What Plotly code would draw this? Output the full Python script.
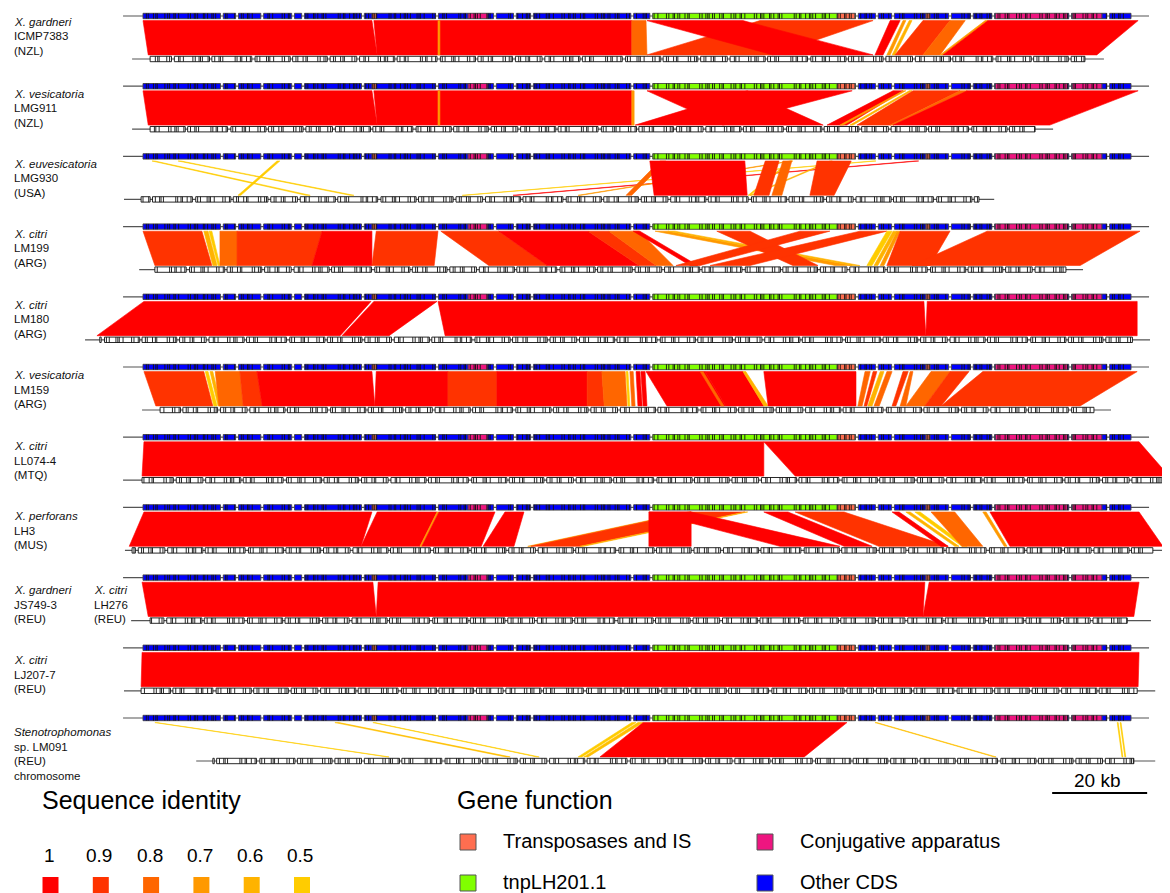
import plotly.graph_objects as go

W, H = 1170, 893          # browser window
PAGE_MARGIN = 8           # default body margin of the html page
FW, FH = W - PAGE_MARGIN, H - PAGE_MARGIN
PX_PER_KB = 4.75          # horizontal scale of the drawing
REF_X0_PX = 143           # window pixel where the reference plasmid starts
FONT = "Liberation Sans, Arial, sans-serif"

# ---------------- data ----------------
identity_levels = [1.0, 0.9, 0.8, 0.7, 0.6, 0.5]
identity_colors = ["#ff0000", "#ff3300", "#ff6600", "#ff9900", "#ffb300", "#ffcc00"]

func_labels = {"IS": "Transposases and IS", "tnp": "tnpLH201.1",
               "conj": "Conjugative apparatus", "other": "Other CDS"}
func_colors = {"IS": "#ff6e50", "tnp": "#80ff00", "conj": "#ee1580", "other": "#0000ff"}

# reference plasmid (kb): functional segments and intergenic gaps
ref_length_kb = 208.0
ref_line_kb = (-4.2, 211.8)
ref_func_segments = [
    (0.0, 48.2, "other"), (48.2, 49.1, "IS"), (49.1, 68.4, "other"),
    (68.4, 72.6, "conj"), (72.6, 107.2, "other"), (107.2, 146.1, "tnp"),
    (146.1, 149.9, "IS"), (149.9, 150.3, "tnp"), (150.3, 164.8, "other"),
    (164.8, 165.7, "IS"), (165.7, 179.4, "other"), (179.4, 194.7, "conj"),
    (194.7, 195.6, "other"), (195.6, 201.9, "conj"), (201.9, 208.0, "other"),
]
ref_gaps_kb = [16.6, 19.8, 25.1, 31.6, 33.7, 46.3, 61.9, 74.1, 78.3, 81.9,
               103.0, 107.0, 150.3, 154.5, 157.9, 169.9, 174.5, 179.0, 195.2, 203.2]

# typical CDS lengths (kb); negative = short intergenic stretch
gene_pattern_kb = [0.7, 0.4, 1.1, 0.5, 0.3, 1.6, 0.6, 0.4, -0.6, 0.9, 0.3, 0.7, 2.0, 0.5,
                   0.8, 0.3, 0.4, 1.2, 0.3, -0.5, 0.6, 0.9, 0.3, 0.5, 2.6, 0.4, 0.7, 0.3,
                   1.0, 0.8, 0.3, -0.7, 0.4, 0.6, 1.4, 0.4, 0.3, 0.8, 1.8, 0.5, 0.9, 0.3,
                   -0.5, 0.7, 0.4, 1.1, 0.6, 0.3, 2.2, 0.5, 0.8, 0.4, 0.3, -0.6]

panel_labels = [
    ["<i>X. gardneri</i>", "ICMP7383", "(NZL)"],
    ["<i>X. vesicatoria</i>", "LMG911", "(NZL)"],
    ["<i>X. euvesicatoria</i>", "LMG930", "(USA)"],
    ["<i>X. citri</i>", "LM199", "(ARG)"],
    ["<i>X. citri</i>", "LM180", "(ARG)"],
    ["<i>X. vesicatoria</i>", "LM159", "(ARG)"],
    ["<i>X. citri</i>", "LL074-4", "(MTQ)"],
    ["<i>X. perforans</i>", "LH3", "(MUS)"],
    ["<i>X. gardneri</i>", "JS749-3", "(REU)"],
    ["<i>X. citri</i>", "LJ207-7", "(REU)"],
    ["<i>Stenotrophomonas</i>", "sp. LM091", "(REU)", "chromosome"],
]
extra_label_panel = 8
extra_label = ["<i>X. citri</i>", "LH276", "(REU)"]

# query sequences: CDS extent and backbone extent (kb, drawing coordinates)
query_cds_kb = [(1.5, 198.3), (1.5, 187.8), (-0.4, 176.0), (2.5, 194.3), (-9.1, 208.4),
                (3.6, 200.2), (-0.2, 214.5), (-2.3, 212.6), (1.5, 207.2), (-0.4, 209.3),
                (14.7, 208.6)]
query_line_kb = [(-2.3, 202.3), (-2.3, 191.6), (-4.0, 179.2), (-0.8, 197.9), (-12.2, 212.0),
                 (-0.2, 203.8), (-4.2, 216.2), (-3.8, 215.6), (-2.5, 212.2), (-4.0, 213.1),
                 (11.2, 213.1)]

# BLAST hits: (ref start, ref end, query start, query end, identity)
blocks_icmp7383 = [
    (0.0, 48.2, 1.1, 49.3, 1.0), (48.6, 102.9, 49.3, 102.9, 1.0), (62.1, 62.5, 62.1, 62.5, 0.7),
    (102.9, 105.9, 102.9, 106.1, 0.8), (129.9, 153.7, 106.1, 132.6, 0.9),
    (106.1, 126.3, 132.6, 153.7, 1.0), (157.3, 159.4, 154.1, 155.8, 1.0),
    (160.0, 160.6, 156.6, 157.3, 0.7), (161.3, 161.9, 157.7, 158.3, 0.6),
    (164.2, 169.9, 158.3, 164.2, 0.9), (169.9, 173.1, 164.2, 167.8, 0.8),
    (177.3, 177.9, 167.8, 168.4, 0.7), (177.9, 209.5, 168.4, 200.8, 1.0),
]
blocks_lmg911 = [
    (0.0, 48.2, 1.1, 49.3, 1.0), (48.6, 102.9, 49.3, 102.9, 1.0), (62.1, 62.5, 62.1, 62.5, 0.7),
    (102.9, 103.4, 102.9, 103.4, 0.7), (127.2, 149.3, 103.6, 122.1, 1.0),
    (106.1, 127.2, 122.1, 143.2, 1.0), (157.9, 160.0, 144.0, 148.2, 1.0),
    (160.0, 160.6, 146.7, 147.4, 0.7), (161.3, 161.9, 148.8, 149.5, 0.6),
    (162.1, 172.0, 150.3, 157.3, 0.9), (172.0, 173.5, 157.3, 157.9, 0.8),
    (173.5, 209.5, 157.9, 190.9, 1.0),
]
blocks_lmg930 = [
    (1.9, 2.5, 34.3, 35.2, 0.5), (7.4, 8.0, 43.6, 44.4, 0.5), (28.2, 28.8, 20.0, 20.6, 0.5),
    (153.7, 154.3, 67.2, 67.8, 0.5), (162.5, 163.3, 77.9, 78.7, 1.0),
    (136.2, 136.8, 91.6, 92.2, 0.7), (108.8, 110.1, 101.7, 102.9, 0.8),
    (106.7, 126.7, 107.6, 127.2, 1.0), (136.2, 136.6, 127.4, 127.8, 0.5),
    (144.6, 145.1, 127.8, 128.2, 0.6), (131.0, 133.9, 128.6, 131.8, 0.9),
    (134.7, 136.6, 132.4, 134.5, 0.8), (141.9, 149.1, 140.4, 145.5, 0.9),
]
blocks_lm199 = [
    (0.0, 12.4, 2.5, 14.5, 0.9), (12.8, 13.7, 14.7, 15.6, 0.6), (13.9, 14.5, 15.8, 16.2, 0.5),
    (16.2, 19.8, 16.2, 19.8, 0.8), (19.8, 37.7, 19.8, 35.6, 0.9), (37.7, 48.2, 35.6, 48.2, 1.0),
    (49.1, 62.1, 48.2, 61.3, 0.9), (62.7, 74.9, 72.8, 85.1, 0.9), (74.9, 93.7, 85.1, 104.4, 1.0),
    (93.7, 98.1, 104.4, 108.0, 0.9), (98.1, 104.4, 108.0, 111.6, 0.8),
    (103.2, 104.6, 115.2, 116.8, 1.0), (107.8, 110.5, 145.7, 149.3, 0.7),
    (110.5, 112.0, 149.3, 150.9, 0.6), (120.8, 127.8, 136.8, 142.1, 0.9),
    (138.3, 144.6, 112.2, 117.3, 0.9), (150.9, 156.6, 119.4, 127.8, 0.9),
    (156.6, 157.7, 152.4, 153.5, 0.5), (157.9, 158.7, 153.9, 154.7, 0.6),
    (158.7, 159.4, 155.2, 156.0, 0.7), (159.4, 169.9, 156.6, 165.7, 0.9),
    (177.7, 209.9, 161.9, 197.3, 0.9),
]
blocks_lm180 = [
    (0.2, 48.0, -9.7, 41.5, 1.0), (48.6, 61.9, 41.9, 51.8, 1.0),
    (62.1, 164.4, 63.6, 164.8, 1.0), (165.1, 209.3, 164.8, 209.3, 1.0),
]
blocks_lm159 = [
    (0.2, 12.8, 2.7, 14.7, 0.9), (13.1, 13.7, 14.9, 15.6, 0.5), (14.1, 14.7, 15.8, 16.4, 0.6),
    (15.2, 20.4, 16.0, 21.1, 0.8), (20.4, 24.0, 21.1, 25.1, 0.9), (24.0, 48.2, 25.1, 48.8, 1.0),
    (49.1, 64.2, 48.8, 64.2, 1.0), (64.2, 74.5, 64.2, 74.5, 0.9), (74.5, 93.5, 74.5, 93.5, 1.0),
    (93.5, 96.6, 93.5, 97.1, 0.9), (96.6, 101.5, 97.1, 101.9, 0.8),
    (101.7, 102.1, 102.1, 102.5, 0.5), (102.5, 103.2, 102.9, 103.6, 0.8),
    (103.8, 104.6, 104.2, 105.1, 1.0), (104.8, 105.7, 105.3, 106.1, 1.0),
    (105.9, 118.3, 110.3, 122.7, 1.0), (117.3, 117.9, 121.7, 122.3, 0.8),
    (118.3, 126.3, 122.7, 130.7, 1.0), (126.3, 126.9, 130.7, 131.6, 0.6),
    (130.7, 150.1, 131.6, 150.1, 1.0), (152.0, 153.1, 150.5, 151.4, 0.8),
    (153.7, 154.5, 151.8, 152.4, 0.9), (155.2, 156.0, 152.6, 153.5, 0.6),
    (156.6, 157.7, 153.9, 155.0, 0.8), (160.0, 161.1, 157.7, 158.5, 0.9),
    (161.5, 162.1, 159.4, 160.6, 0.8), (165.9, 169.9, 160.6, 164.6, 0.8),
    (169.9, 173.9, 164.6, 168.0, 0.9), (176.8, 209.3, 168.0, 197.3, 0.9),
]
blocks_ll074 = [
    (0.2, 130.7, -0.2, 130.7, 1.0), (130.7, 209.7, 137.3, 216.0, 1.0),
]
blocks_lh3 = [
    (0.2, 48.2, -2.9, 45.9, 1.0), (49.3, 61.9, 45.9, 58.3, 1.0), (61.9, 62.3, 58.3, 58.7, 0.7),
    (62.3, 74.1, 58.7, 71.2, 1.0), (76.2, 80.2, 71.6, 78.1, 1.0),
    (114.8, 115.4, 81.0, 81.7, 0.7), (115.4, 126.7, 81.7, 92.0, 0.9),
    (126.7, 127.3, 92.0, 92.8, 0.6), (106.5, 115.4, 134.1, 146.7, 1.0),
    (106.5, 115.4, 106.5, 115.4, 1.0), (130.7, 135.8, 147.6, 153.5, 1.0),
    (137.3, 147.6, 154.9, 169.5, 0.9), (157.7, 159.2, 168.0, 169.5, 1.0),
    (160.6, 161.5, 170.9, 171.8, 0.6), (162.5, 163.6, 172.4, 173.5, 0.5),
    (165.9, 170.9, 172.4, 176.8, 0.8), (176.8, 177.5, 181.3, 181.9, 0.7),
    (178.3, 209.7, 182.5, 214.7, 1.0),
]
blocks_lh276 = [
    (-0.2, 48.4, 1.1, 49.1, 1.0), (49.5, 164.6, 49.1, 164.2, 1.0), (165.5, 209.7, 164.2, 208.6, 1.0),
]
blocks_lj207 = [
    (-0.2, 209.7, -0.4, 209.5, 1.0),
]
blocks_lm091 = [
    (2.5, 2.9, 51.4, 51.8, 0.5), (40.4, 41.3, 76.4, 77.3, 0.55), (48.4, 48.8, 82.9, 83.4, 0.5),
    (102.9, 103.8, 91.6, 92.4, 0.5), (104.2, 105.3, 92.8, 93.7, 0.55),
    (105.3, 148.2, 96.2, 139.2, 1.0), (154.1, 154.5, 179.2, 179.6, 0.55),
    (205.1, 205.3, 206.1, 206.3, 0.5), (205.7, 205.9, 206.7, 206.9, 0.5),
]
panel_blocks = [blocks_icmp7383, blocks_lmg911, blocks_lmg930, blocks_lm199, blocks_lm180,
                blocks_lm159, blocks_ll074, blocks_lh3, blocks_lh276, blocks_lj207, blocks_lm091]

scale_bar_kb = 20
scale_bar_end_kb = 211.4

# ---------------- layout constants (window pixels) ----------------
PANEL_TOP = 16.0
PANEL_STEP = 70.2
QUERY_DY = 43.0
HALF_H = 2.7
LABEL_Y = [21.5, 93.5, 163.5, 233.5, 304.5, 375, 446, 516, 590, 660, 732]
LABEL_STEP = 14.7


def px(xw):
    """window pixel x -> paper fraction of the figure"""
    return (xw - PAGE_MARGIN) / FW


def hex2rgb(h):
    return tuple(int(h[i:i + 2], 16) for i in (1, 3, 5))


def id_color(v):
    v = max(identity_levels[-1], min(identity_levels[0], v))
    for k in range(len(identity_levels) - 1):
        a, b = identity_levels[k], identity_levels[k + 1]
        if b <= v <= a:
            t = (a - v) / (a - b)
            ca, cb = hex2rgb(identity_colors[k]), hex2rgb(identity_colors[k + 1])
            return "rgb(%d,%d,%d)" % tuple(round(ca[j] + (cb[j] - ca[j]) * t) for j in range(3))
    return identity_colors[0]


def genes_in(start, end, offset, use_gaps):
    """Lay CDS boxes from the pattern between start and end -> list of contigs (lists of genes)."""
    contigs, cur = [], []
    x, i = start, offset
    while x < end - 0.05:
        L = gene_pattern_kb[i % len(gene_pattern_kb)]
        i += 1
        if L < 0:
            if use_gaps and cur:
                contigs.append(cur)
                cur = []
                x += -L
            continue
        e = min(x + L, end)
        cur.append((x, e))
        x = e
    if cur:
        contigs.append(cur)
    return contigs


fig = go.Figure()

# ---------------- alignment polygons ----------------
for p, blocks in enumerate(panel_blocks):
    ry = PANEL_TOP + PANEL_STEP * p
    qy = ry + QUERY_DY
    yt, yb = ry + HALF_H + 1.9, qy - HALF_H - 1.4
    for (r1, r2, q1, q2, ident) in blocks:
        c = id_color(ident)
        fig.add_trace(go.Scatter(x=[r1, r2, q2, q1, r1], y=[yt, yt, yb, yb, yt],
                                 mode="lines", fill="toself", fillcolor=c,
                                 line=dict(color=c, width=0.6), hoverinfo="skip",
                                 showlegend=False))

# ---------------- tracks ----------------
bb_x, bb_y = [], []
div_x, div_y = [], []
fills = {k: ([], []) for k in list(func_colors) + ["white"]}

ref_contigs = []
s = 0.0
for g in ref_gaps_kb:
    ref_contigs.append((s, g - 0.3))
    s = g + 0.3
ref_contigs.append((s, ref_length_kb))

for p in range(len(panel_blocks)):
    ry = PANEL_TOP + PANEL_STEP * p
    qy = ry + QUERY_DY
    bb_x += [ref_line_kb[0], ref_line_kb[1], None]
    bb_y += [ry, ry, None]
    for k, (cs, ce) in enumerate(ref_contigs):
        for (fs, fe, fn) in ref_func_segments:
            a, b = max(cs, fs), min(ce, fe)
            if b > a:
                fx, fy = fills[fn]
                fx += [a, b, b, a, a, None]
                fy += [ry - HALF_H, ry - HALF_H, ry + HALF_H, ry + HALF_H, ry - HALF_H, None]
        for contig in genes_in(cs, ce, k * 3, False):
            for (gs, ge) in contig[:-1]:
                div_x += [ge, ge, None]
                div_y += [ry - HALF_H, ry + HALF_H, None]
    ls, le = query_line_kb[p]
    bb_x += [ls, le, None]
    bb_y += [qy, qy, None]
    cs, ce = query_cds_kb[p]
    for contig in genes_in(cs, ce, p * 7 + 2, True):
        a, b = contig[0][0], contig[-1][1]
        fx, fy = fills["white"]
        fx += [a, b, b, a, a, None]
        fy += [qy - HALF_H, qy - HALF_H, qy + HALF_H, qy + HALF_H, qy - HALF_H, None]
        for (gs, ge) in contig[:-1]:
            div_x += [ge, ge, None]
            div_y += [qy - HALF_H, qy + HALF_H, None]

fig.add_trace(go.Scatter(x=bb_x, y=bb_y, mode="lines", line=dict(color="#555555", width=1.2),
                         hoverinfo="skip", showlegend=False))
for key, (fx, fy) in fills.items():
    if not fx:
        continue
    col = "#ffffff" if key == "white" else func_colors[key]
    edge = "#111111" if key == "white" else "#444444"
    fig.add_trace(go.Scatter(x=fx, y=fy, mode="lines", fill="toself", fillcolor=col,
                             line=dict(color=edge, width=0.9), hoverinfo="skip",
                             showlegend=False))
fig.add_trace(go.Scatter(x=div_x, y=div_y, mode="lines", line=dict(color="#111111", width=0.9),
                         hoverinfo="skip", showlegend=False))

# ---------------- labels ----------------
ann = []
for p, lines in enumerate(panel_labels):
    for j, t in enumerate(lines):
        ann.append(dict(x=px(12), xref="paper", y=LABEL_Y[p] + j * LABEL_STEP, yref="y",
                        text=t, showarrow=False, xanchor="left", yanchor="middle",
                        font=dict(family=FONT, size=11.5, color="#111111")))
for j, t in enumerate(extra_label):
    ann.append(dict(x=px(92), xref="paper", y=LABEL_Y[extra_label_panel] + j * LABEL_STEP, yref="y",
                    text=t, showarrow=False, xanchor="left", yanchor="middle",
                    font=dict(family=FONT, size=11.5, color="#111111")))

# scale bar
fig.add_trace(go.Scatter(x=[scale_bar_end_kb - scale_bar_kb, scale_bar_end_kb], y=[793, 793],
                         mode="lines", line=dict(color="black", width=2), hoverinfo="skip",
                         showlegend=False))
ann.append(dict(x=scale_bar_end_kb - scale_bar_kb / 2 - 0.5, xref="x", y=780, yref="y",
                text="%d kb" % scale_bar_kb, showarrow=False, xanchor="center", yanchor="middle",
                font=dict(family=FONT, size=19, color="black")))

# sequence identity legend
shapes = []
ann.append(dict(x=px(40), xref="paper", y=800, yref="y", text="Sequence identity", showarrow=False,
                xanchor="left", yanchor="middle", font=dict(family=FONT, size=25, color="black")))
for k, (lv, col) in enumerate(zip(identity_levels, identity_colors)):
    cx = 50.5 + 50.3 * k
    ann.append(dict(x=px(cx - 1.5), xref="paper", y=855, yref="y", text=("%g" % lv), showarrow=False,
                    xanchor="center", yanchor="middle", font=dict(family=FONT, size=19, color="black")))
    shapes.append(dict(type="rect", xref="paper", yref="y", x0=px(cx - 8), x1=px(cx + 8),
                       y0=877, y1=895, fillcolor=col, line=dict(width=0)))

# gene function legend
ann.append(dict(x=px(455), xref="paper", y=800, yref="y", text="Gene function", showarrow=False,
                xanchor="left", yanchor="middle", font=dict(family=FONT, size=25, color="black")))
legend_items = [("IS", 460, 842), ("tnp", 460, 883), ("conj", 757, 842), ("other", 757, 883)]
for key, sx, sy in legend_items:
    shapes.append(dict(type="rect", xref="paper", yref="y", x0=px(sx), x1=px(sx + 16),
                       y0=sy - 8, y1=sy + 8, fillcolor=func_colors[key],
                       line=dict(color="#555555", width=1)))
    ann.append(dict(x=px(sx + 41), xref="paper", y=sy - 1, yref="y", text=func_labels[key],
                    showarrow=False, xanchor="left", yanchor="middle",
                    font=dict(family=FONT, size=20, color="black")))

fig.update_layout(
    width=FW, height=FH, margin=dict(l=0, r=0, t=0, b=0),
    paper_bgcolor="white", plot_bgcolor="white",
    xaxis=dict(range=[(PAGE_MARGIN - REF_X0_PX) / PX_PER_KB, (W - REF_X0_PX) / PX_PER_KB],
               visible=False, fixedrange=True),
    yaxis=dict(range=[H, PAGE_MARGIN], visible=False, fixedrange=True),
    annotations=ann, shapes=shapes, showlegend=False,
)

fig.write_html("out.html")
